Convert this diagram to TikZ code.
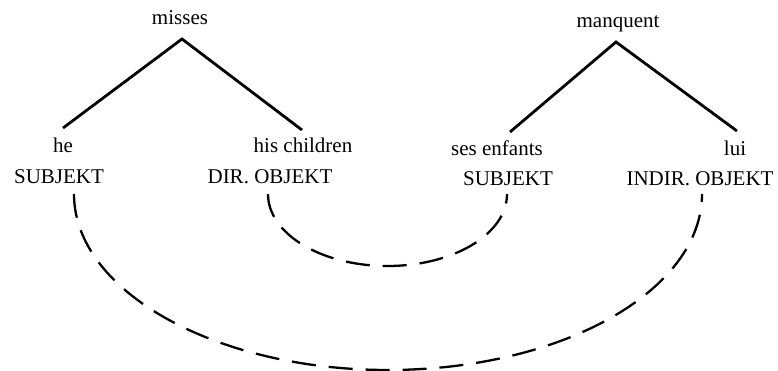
\documentclass[tikz,border=0pt]{standalone}
\usepackage{fontspec}
\setmainfont{Liberation Serif}
\begin{document}
\begin{tikzpicture}[x=1pt,y=-1pt,
  word/.style={anchor=base,inner sep=0pt,font=\fontsize{21}{24}\selectfont},
  branch/.style={line width=2.8pt},
  link/.style={line width=2.3pt,dash pattern=on 24pt off 13pt}]
\useasboundingbox (0,0) rectangle (778,371);
% left tree
\node[word] (misses) at (180,25) {misses};
\node[word] (he) at (63,153) {he};
\node[word] (hisch) at (303,153) {his children};
\node[word] (subjL) at (59,184) {SUBJEKT};
\node[word] (dirobj) at (270,184) {DIR. OBJEKT};
% right tree
\node[word] (manquent) at (618,28) {manquent};
\node[word] (sesenf) at (497,156) {ses enfants};
\node[word] (lui) at (735,156) {lui};
\node[word] (subjR) at (508,186) {SUBJEKT};
\node[word] (indir) at (700,186) {INDIR. OBJEKT};
% branches
\draw[branch] ([shift={(0,-25)}]he.base) -- ([shift={(2,14)}]misses.base) -- ([shift={(-1,-23)}]hisch.base);
\draw[branch] ([shift={(13,-24)}]sesenf.base) -- ([shift={(-2,14)}]manquent.base) -- ([shift={(2,-25)}]lui.base);
% links
\draw[link] ([shift={(-2,10)}]dirobj.base) .. controls +(0,40) and +(-66,0) .. ++(119.5,72)
  .. controls +(66,0) and +(0,40) .. ([shift={(-1,8)}]subjR.base);
\draw[link] ([shift={(15,10)}]subjL.base) .. controls +(0,97) and +(-173,0) .. ++(314,176)
  .. controls +(173,0) and +(0,97) .. ([shift={(2,8)}]indir.base);
\end{tikzpicture}
\end{document}
